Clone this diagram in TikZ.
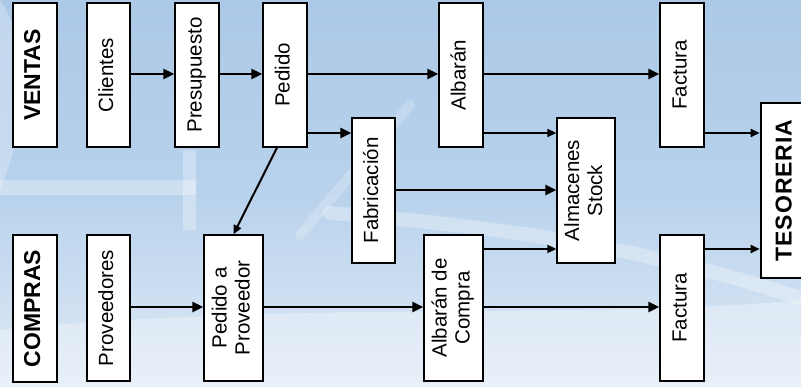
\documentclass[tikz,border=0pt]{standalone}
\usepackage{fontspec}
\setmainfont{Liberation Sans}
\usepackage{graphicx}
\usetikzlibrary{arrows.meta}
\definecolor{bgtop}{RGB}{172,201,231}
\definecolor{bgmid}{RGB}{184,210,236}
\definecolor{bgbot}{RGB}{224,234,246}
\newcommand{\rotlbl}[1]{\rotatebox{90}{\begin{tabular}{@{}c@{}}#1\end{tabular}}}
\begin{document}
\begin{tikzpicture}[x=1pt,y=-1pt,
  box/.style={draw=black, line width=1.4pt, fill=white, inner sep=0pt,
    font=\fontsize{20.5}{23}\selectfont},
  head/.style={box, line width=2.6pt, font=\fontsize{23}{26}\selectfont\bfseries},
  arr/.style={line width=2.8pt, -{Triangle[length=11pt,width=10pt]}},
  arrthin/.style={line width=2pt, -{Triangle[length=9pt,width=8pt]}},
  swirl/.style={white, opacity=0.3, line cap=round},
]
\useasboundingbox (0,0) rectangle (801,387);
\clip (0,0) rectangle (801,387);
% background
\shade[top color=bgtop, bottom color=bgbot, middle color=bgmid] (0,0) rectangle (801,387);
\fill[white, opacity=0.25] (0,0) .. controls (40,60) and (20,140) .. (0,190) -- cycle;
\fill[swirl] (0,180) rectangle (196,195);
\fill[swirl] (183,150) rectangle (196,230);
\draw[swirl, line width=14pt] (330,213) .. controls (480,225) and (650,245) .. (820,305);
\draw[swirl, opacity=0.22, line width=10pt] (300,235) -- (410,105);
\fill[white, opacity=0.3] (0,330) .. controls (300,300) and (600,320) .. (801,300) -- (801,387) -- (0,387) -- cycle;

% row levels
\coordinate (r74) at (0,74);
\coordinate (r133) at (0,133);
\coordinate (r190) at (0,190);
\coordinate (r249) at (0,249);
\coordinate (r307) at (0,307);

% nodes
\node[head, minimum width=44pt, minimum height=144pt] (ven) at (35,75) {\rotlbl{VENTAS}};
\node[box, minimum width=43pt, minimum height=144pt] (cli) at (108.5,75) {\rotlbl{Clientes}};
\node[box, minimum width=44pt, minimum height=144pt] (pre) at (197,75) {\rotlbl{Presupuesto}};
\node[box, minimum width=44pt, minimum height=144pt] (ped) at (285,75) {\rotlbl{Pedido}};
\node[box, minimum width=44pt, minimum height=144pt] (alb) at (461,75) {\rotlbl{Albarán}};
\node[box, minimum width=44pt, minimum height=144pt] (fa1) at (682,75) {\rotlbl{Factura}};
\node[box, minimum width=43pt, minimum height=145pt] (fab) at (373.5,190.5) {\rotlbl{Fabricación}};
\node[box, minimum width=58pt, minimum height=145pt] (alm) at (586,190.5) {\rotlbl{Almacenes\\Stock}};
\node[head, minimum width=51pt, minimum height=175pt] (tes) at (786.5,190.5)
  {\rotlbl{\addfontfeature{LetterSpace=4}TESORERIA}};
\node[head, minimum width=44pt, minimum height=147pt] (com) at (35,308.5) {\rotlbl{COMPRAS}};
\node[box, minimum width=43pt, minimum height=146pt] (prv) at (108.5,308) {\rotlbl{Proveedores}};
\node[box, minimum width=59pt, minimum height=146pt] (pap) at (233.5,308) {\rotlbl{Pedido a\\Proveedor}};
\node[box, minimum width=59pt, minimum height=146pt] (abc) at (453.5,308) {\rotlbl{Albarán de\\Compra}};
\node[box, minimum width=44pt, minimum height=146pt] (fa2) at (682,308) {\rotlbl{Factura}};

% connectors
\draw[arr] (cli.east |- r74) -- (pre.west |- r74);
\draw[arr] (pre.east |- r74) -- (ped.west |- r74);
\draw[arr] (ped.east |- r74) -- (alb.west |- r74);
\draw[arr] (alb.east |- r74) -- (fa1.west |- r74);
\draw[arr] (ped.east |- r133) -- (fab.west |- r133);
\draw[arrthin] (alb.east |- r133) -- (alm.west |- r133);
\draw[arr] (fab.east |- r190) -- (alm.west |- r190);
\draw[arrthin] (fa1.east |- r133) -- (tes.west |- r133);
\draw[arr] (prv.east |- r307) -- (pap.west |- r307);
\draw[arr] (pap.east |- r307) -- (abc.west |- r307);
\draw[arrthin] (abc.east |- r249) -- (alm.west |- r249);
\draw[arr] (abc.east |- r307) -- (fa2.west |- r307);
\draw[arrthin] (fa2.east |- r249) -- (tes.west |- r249);
\draw[arrthin] ([xshift=-8pt]ped.south) -- (pap.north);
\end{tikzpicture}
\end{document}
